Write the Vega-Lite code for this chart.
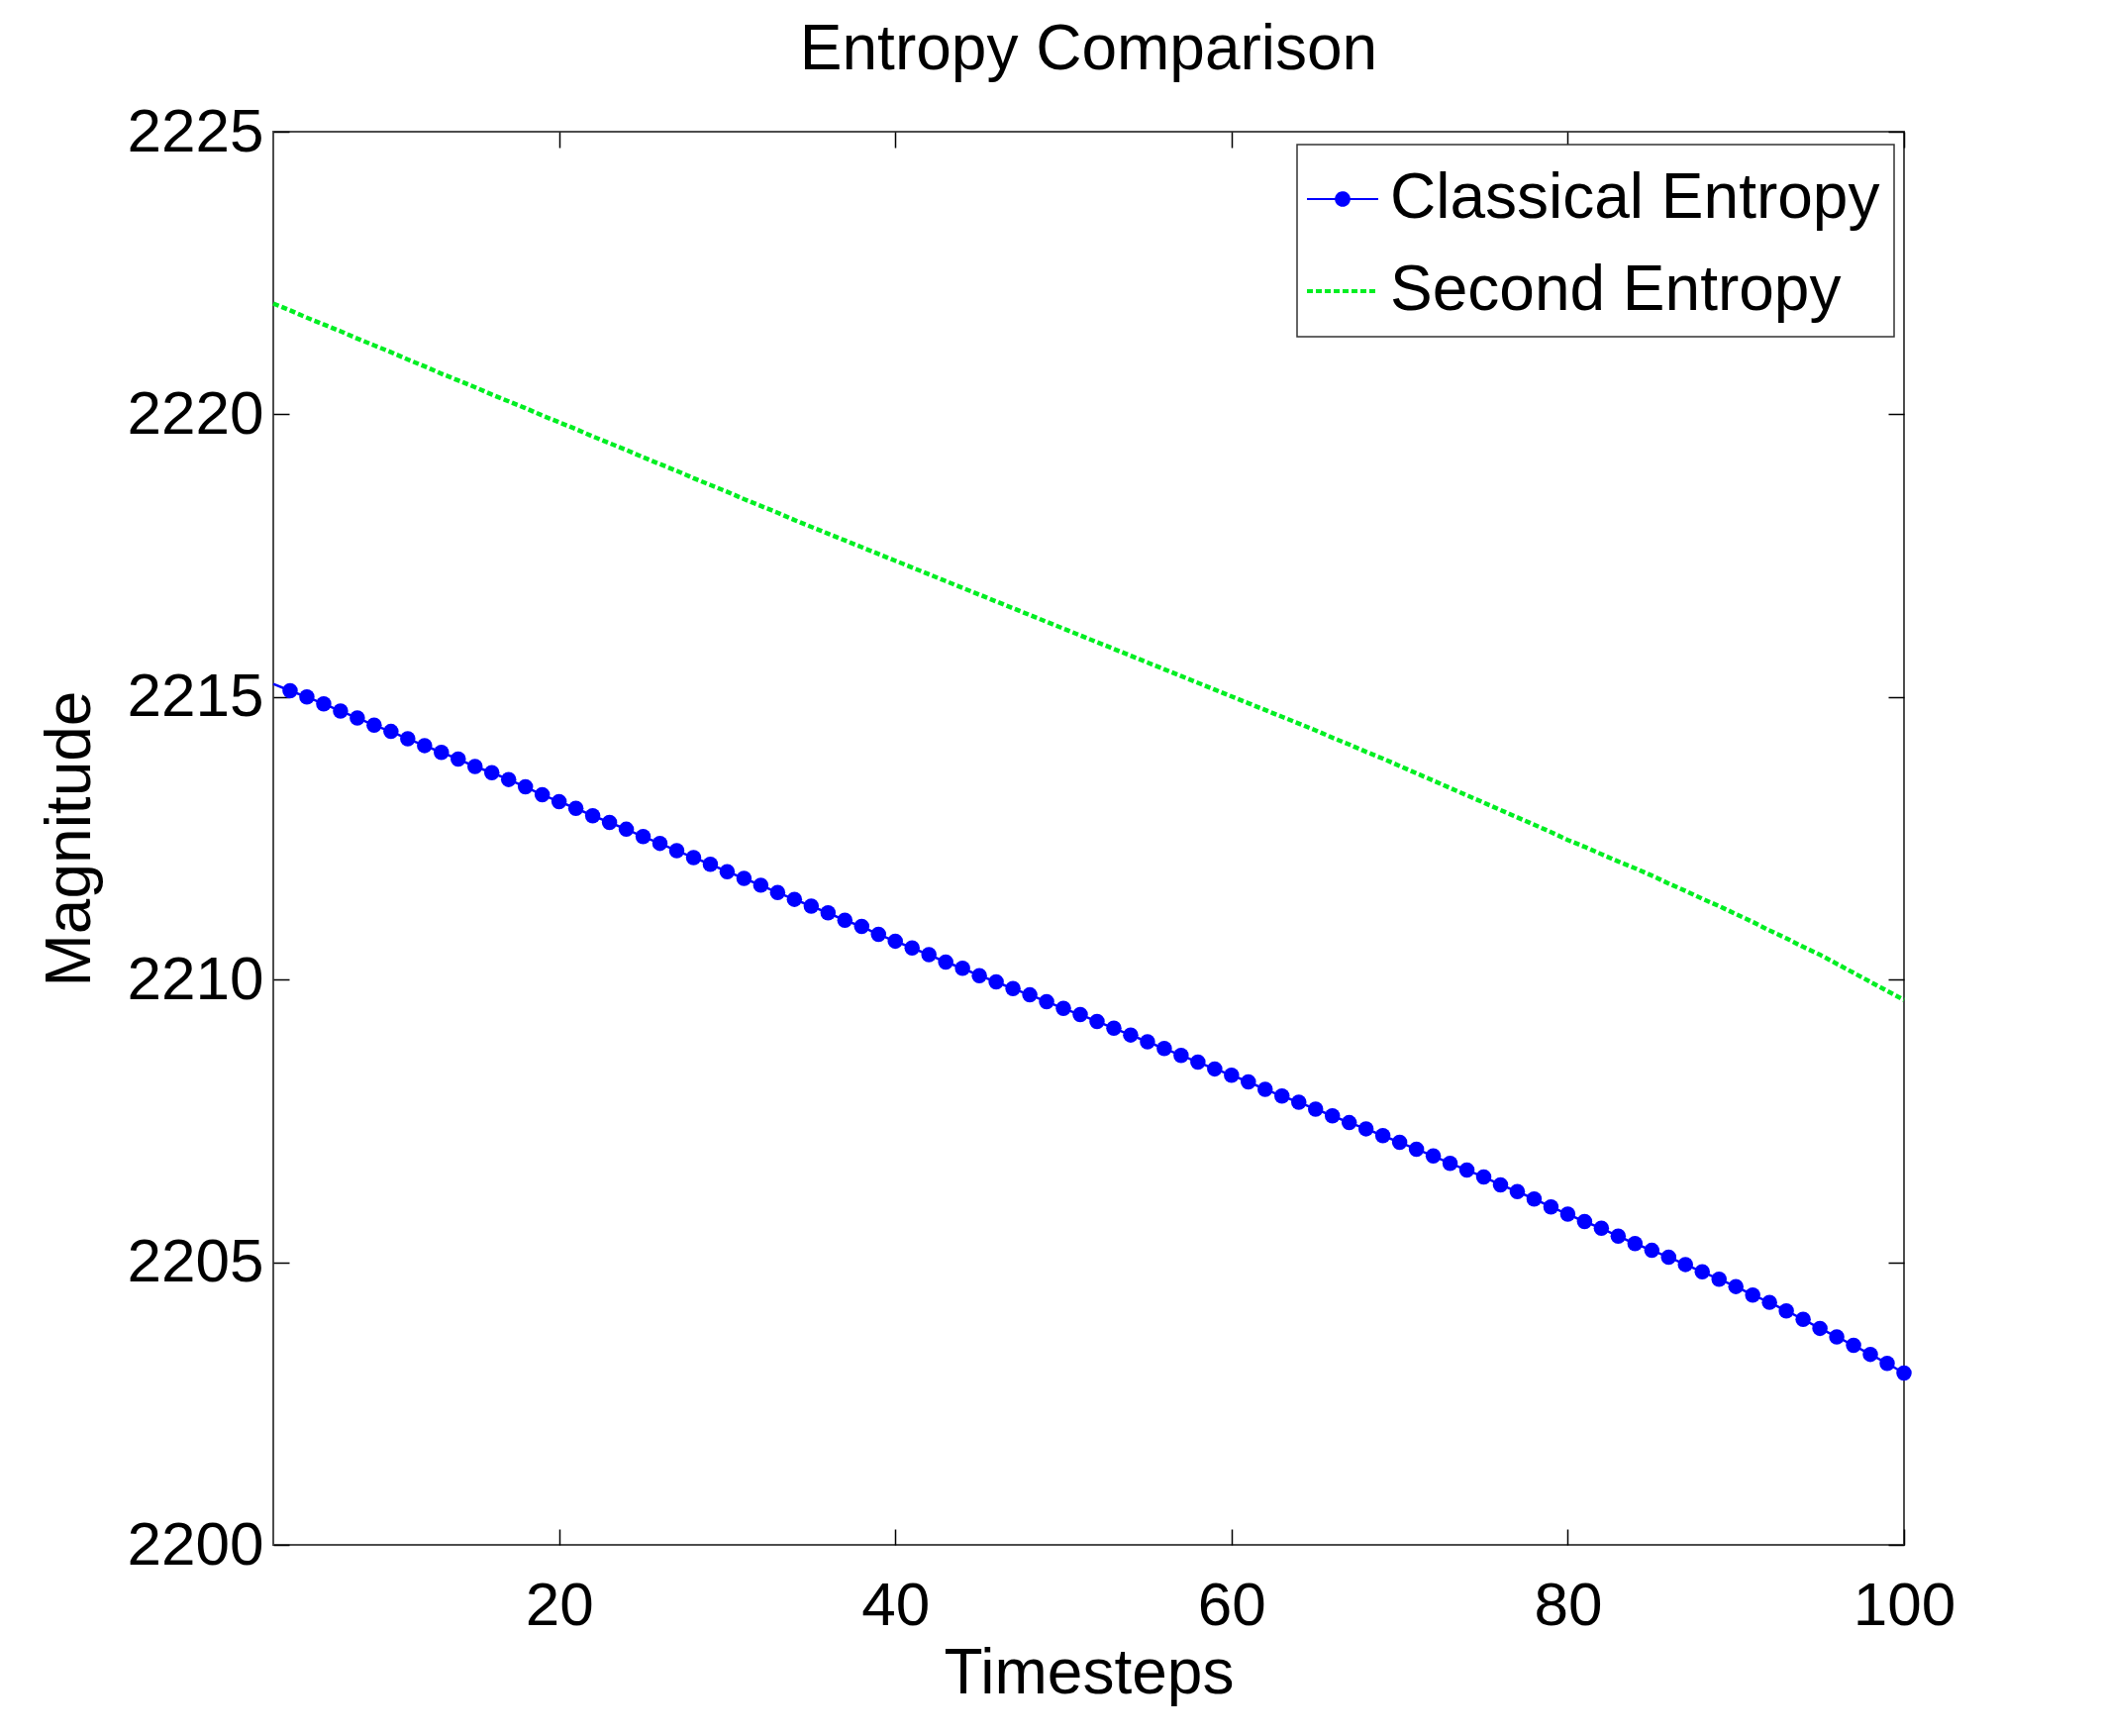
{
  "$schema": "https://vega.github.io/schema/vega-lite/v6.json",
  "width": 1647,
  "height": 1427,
  "autosize": {"type": "none"},
  "padding": {"left": 276, "top": 133, "right": 202, "bottom": 193},
  "background": "white",
  "config": {
    "font": "Liberation Sans",
    "view": {"stroke": "#4d4d4d", "strokeWidth": 2},
    "axis": {
      "labelFont": "Liberation Sans",
      "titleFont": "Liberation Sans",
      "labelFontSize": 62,
      "titleFontSize": 64,
      "labelColor": "black",
      "titleColor": "black",
      "titleFontWeight": "normal",
      "tickColor": "black",
      "tickWidth": 1.5,
      "tickSize": -16,
      "domain": false,
      "grid": false,
      "labelFlush": false
    }
  },
  "title": {
    "text": "Entropy Comparison",
    "font": "Liberation Sans",
    "fontSize": 64,
    "fontWeight": "normal",
    "color": "black",
    "anchor": "middle",
    "offset": 19
  },
  "data": {
    "values": [
      {"t": 3, "v": 2215.23, "series": "Classical Entropy"},
      {"t": 4, "v": 2215.11, "series": "Classical Entropy"},
      {"t": 5, "v": 2215.00, "series": "Classical Entropy"},
      {"t": 6, "v": 2214.88, "series": "Classical Entropy"},
      {"t": 7, "v": 2214.75, "series": "Classical Entropy"},
      {"t": 8, "v": 2214.63, "series": "Classical Entropy"},
      {"t": 9, "v": 2214.50, "series": "Classical Entropy"},
      {"t": 10, "v": 2214.39, "series": "Classical Entropy"},
      {"t": 11, "v": 2214.26, "series": "Classical Entropy"},
      {"t": 12, "v": 2214.14, "series": "Classical Entropy"},
      {"t": 13, "v": 2214.02, "series": "Classical Entropy"},
      {"t": 14, "v": 2213.90, "series": "Classical Entropy"},
      {"t": 15, "v": 2213.77, "series": "Classical Entropy"},
      {"t": 16, "v": 2213.66, "series": "Classical Entropy"},
      {"t": 17, "v": 2213.54, "series": "Classical Entropy"},
      {"t": 18, "v": 2213.41, "series": "Classical Entropy"},
      {"t": 19, "v": 2213.27, "series": "Classical Entropy"},
      {"t": 20, "v": 2213.15, "series": "Classical Entropy"},
      {"t": 21, "v": 2213.03, "series": "Classical Entropy"},
      {"t": 22, "v": 2212.90, "series": "Classical Entropy"},
      {"t": 23, "v": 2212.78, "series": "Classical Entropy"},
      {"t": 24, "v": 2212.66, "series": "Classical Entropy"},
      {"t": 25, "v": 2212.53, "series": "Classical Entropy"},
      {"t": 26, "v": 2212.41, "series": "Classical Entropy"},
      {"t": 27, "v": 2212.28, "series": "Classical Entropy"},
      {"t": 28, "v": 2212.16, "series": "Classical Entropy"},
      {"t": 29, "v": 2212.04, "series": "Classical Entropy"},
      {"t": 30, "v": 2211.91, "series": "Classical Entropy"},
      {"t": 31, "v": 2211.79, "series": "Classical Entropy"},
      {"t": 32, "v": 2211.67, "series": "Classical Entropy"},
      {"t": 33, "v": 2211.54, "series": "Classical Entropy"},
      {"t": 34, "v": 2211.42, "series": "Classical Entropy"},
      {"t": 35, "v": 2211.30, "series": "Classical Entropy"},
      {"t": 36, "v": 2211.18, "series": "Classical Entropy"},
      {"t": 37, "v": 2211.05, "series": "Classical Entropy"},
      {"t": 38, "v": 2210.94, "series": "Classical Entropy"},
      {"t": 39, "v": 2210.80, "series": "Classical Entropy"},
      {"t": 40, "v": 2210.68, "series": "Classical Entropy"},
      {"t": 41, "v": 2210.56, "series": "Classical Entropy"},
      {"t": 42, "v": 2210.44, "series": "Classical Entropy"},
      {"t": 43, "v": 2210.31, "series": "Classical Entropy"},
      {"t": 44, "v": 2210.20, "series": "Classical Entropy"},
      {"t": 45, "v": 2210.07, "series": "Classical Entropy"},
      {"t": 46, "v": 2209.96, "series": "Classical Entropy"},
      {"t": 47, "v": 2209.84, "series": "Classical Entropy"},
      {"t": 48, "v": 2209.73, "series": "Classical Entropy"},
      {"t": 49, "v": 2209.61, "series": "Classical Entropy"},
      {"t": 50, "v": 2209.49, "series": "Classical Entropy"},
      {"t": 51, "v": 2209.38, "series": "Classical Entropy"},
      {"t": 52, "v": 2209.26, "series": "Classical Entropy"},
      {"t": 53, "v": 2209.14, "series": "Classical Entropy"},
      {"t": 54, "v": 2209.02, "series": "Classical Entropy"},
      {"t": 55, "v": 2208.90, "series": "Classical Entropy"},
      {"t": 56, "v": 2208.78, "series": "Classical Entropy"},
      {"t": 57, "v": 2208.66, "series": "Classical Entropy"},
      {"t": 58, "v": 2208.54, "series": "Classical Entropy"},
      {"t": 59, "v": 2208.42, "series": "Classical Entropy"},
      {"t": 60, "v": 2208.31, "series": "Classical Entropy"},
      {"t": 61, "v": 2208.19, "series": "Classical Entropy"},
      {"t": 62, "v": 2208.06, "series": "Classical Entropy"},
      {"t": 63, "v": 2207.94, "series": "Classical Entropy"},
      {"t": 64, "v": 2207.83, "series": "Classical Entropy"},
      {"t": 65, "v": 2207.71, "series": "Classical Entropy"},
      {"t": 66, "v": 2207.59, "series": "Classical Entropy"},
      {"t": 67, "v": 2207.47, "series": "Classical Entropy"},
      {"t": 68, "v": 2207.36, "series": "Classical Entropy"},
      {"t": 69, "v": 2207.24, "series": "Classical Entropy"},
      {"t": 70, "v": 2207.12, "series": "Classical Entropy"},
      {"t": 71, "v": 2207.00, "series": "Classical Entropy"},
      {"t": 72, "v": 2206.88, "series": "Classical Entropy"},
      {"t": 73, "v": 2206.75, "series": "Classical Entropy"},
      {"t": 74, "v": 2206.63, "series": "Classical Entropy"},
      {"t": 75, "v": 2206.51, "series": "Classical Entropy"},
      {"t": 76, "v": 2206.37, "series": "Classical Entropy"},
      {"t": 77, "v": 2206.25, "series": "Classical Entropy"},
      {"t": 78, "v": 2206.12, "series": "Classical Entropy"},
      {"t": 79, "v": 2205.98, "series": "Classical Entropy"},
      {"t": 80, "v": 2205.85, "series": "Classical Entropy"},
      {"t": 81, "v": 2205.72, "series": "Classical Entropy"},
      {"t": 82, "v": 2205.60, "series": "Classical Entropy"},
      {"t": 83, "v": 2205.46, "series": "Classical Entropy"},
      {"t": 84, "v": 2205.33, "series": "Classical Entropy"},
      {"t": 85, "v": 2205.21, "series": "Classical Entropy"},
      {"t": 86, "v": 2205.09, "series": "Classical Entropy"},
      {"t": 87, "v": 2204.96, "series": "Classical Entropy"},
      {"t": 88, "v": 2204.83, "series": "Classical Entropy"},
      {"t": 89, "v": 2204.70, "series": "Classical Entropy"},
      {"t": 90, "v": 2204.57, "series": "Classical Entropy"},
      {"t": 91, "v": 2204.42, "series": "Classical Entropy"},
      {"t": 92, "v": 2204.29, "series": "Classical Entropy"},
      {"t": 93, "v": 2204.14, "series": "Classical Entropy"},
      {"t": 94, "v": 2203.99, "series": "Classical Entropy"},
      {"t": 95, "v": 2203.83, "series": "Classical Entropy"},
      {"t": 96, "v": 2203.68, "series": "Classical Entropy"},
      {"t": 97, "v": 2203.53, "series": "Classical Entropy"},
      {"t": 98, "v": 2203.37, "series": "Classical Entropy"},
      {"t": 99, "v": 2203.21, "series": "Classical Entropy"},
      {"t": 100, "v": 2203.04, "series": "Classical Entropy"},
      {"t": 3, "v": 2221.96, "series": "Second Entropy"},
      {"t": 4, "v": 2221.84, "series": "Second Entropy"},
      {"t": 5, "v": 2221.71, "series": "Second Entropy"},
      {"t": 6, "v": 2221.59, "series": "Second Entropy"},
      {"t": 7, "v": 2221.47, "series": "Second Entropy"},
      {"t": 8, "v": 2221.34, "series": "Second Entropy"},
      {"t": 9, "v": 2221.22, "series": "Second Entropy"},
      {"t": 10, "v": 2221.10, "series": "Second Entropy"},
      {"t": 11, "v": 2220.97, "series": "Second Entropy"},
      {"t": 12, "v": 2220.85, "series": "Second Entropy"},
      {"t": 13, "v": 2220.72, "series": "Second Entropy"},
      {"t": 14, "v": 2220.60, "series": "Second Entropy"},
      {"t": 15, "v": 2220.48, "series": "Second Entropy"},
      {"t": 16, "v": 2220.35, "series": "Second Entropy"},
      {"t": 17, "v": 2220.23, "series": "Second Entropy"},
      {"t": 18, "v": 2220.11, "series": "Second Entropy"},
      {"t": 19, "v": 2219.98, "series": "Second Entropy"},
      {"t": 20, "v": 2219.86, "series": "Second Entropy"},
      {"t": 21, "v": 2219.74, "series": "Second Entropy"},
      {"t": 22, "v": 2219.61, "series": "Second Entropy"},
      {"t": 23, "v": 2219.49, "series": "Second Entropy"},
      {"t": 24, "v": 2219.37, "series": "Second Entropy"},
      {"t": 25, "v": 2219.24, "series": "Second Entropy"},
      {"t": 26, "v": 2219.12, "series": "Second Entropy"},
      {"t": 27, "v": 2219.00, "series": "Second Entropy"},
      {"t": 28, "v": 2218.87, "series": "Second Entropy"},
      {"t": 29, "v": 2218.75, "series": "Second Entropy"},
      {"t": 30, "v": 2218.63, "series": "Second Entropy"},
      {"t": 31, "v": 2218.50, "series": "Second Entropy"},
      {"t": 32, "v": 2218.38, "series": "Second Entropy"},
      {"t": 33, "v": 2218.26, "series": "Second Entropy"},
      {"t": 34, "v": 2218.13, "series": "Second Entropy"},
      {"t": 35, "v": 2218.01, "series": "Second Entropy"},
      {"t": 36, "v": 2217.89, "series": "Second Entropy"},
      {"t": 37, "v": 2217.77, "series": "Second Entropy"},
      {"t": 38, "v": 2217.65, "series": "Second Entropy"},
      {"t": 39, "v": 2217.53, "series": "Second Entropy"},
      {"t": 40, "v": 2217.41, "series": "Second Entropy"},
      {"t": 41, "v": 2217.29, "series": "Second Entropy"},
      {"t": 42, "v": 2217.17, "series": "Second Entropy"},
      {"t": 43, "v": 2217.05, "series": "Second Entropy"},
      {"t": 44, "v": 2216.93, "series": "Second Entropy"},
      {"t": 45, "v": 2216.81, "series": "Second Entropy"},
      {"t": 46, "v": 2216.69, "series": "Second Entropy"},
      {"t": 47, "v": 2216.57, "series": "Second Entropy"},
      {"t": 48, "v": 2216.45, "series": "Second Entropy"},
      {"t": 49, "v": 2216.33, "series": "Second Entropy"},
      {"t": 50, "v": 2216.21, "series": "Second Entropy"},
      {"t": 51, "v": 2216.09, "series": "Second Entropy"},
      {"t": 52, "v": 2215.97, "series": "Second Entropy"},
      {"t": 53, "v": 2215.85, "series": "Second Entropy"},
      {"t": 54, "v": 2215.73, "series": "Second Entropy"},
      {"t": 55, "v": 2215.61, "series": "Second Entropy"},
      {"t": 56, "v": 2215.49, "series": "Second Entropy"},
      {"t": 57, "v": 2215.37, "series": "Second Entropy"},
      {"t": 58, "v": 2215.25, "series": "Second Entropy"},
      {"t": 59, "v": 2215.13, "series": "Second Entropy"},
      {"t": 60, "v": 2215.01, "series": "Second Entropy"},
      {"t": 61, "v": 2214.89, "series": "Second Entropy"},
      {"t": 62, "v": 2214.77, "series": "Second Entropy"},
      {"t": 63, "v": 2214.65, "series": "Second Entropy"},
      {"t": 64, "v": 2214.53, "series": "Second Entropy"},
      {"t": 65, "v": 2214.41, "series": "Second Entropy"},
      {"t": 66, "v": 2214.28, "series": "Second Entropy"},
      {"t": 67, "v": 2214.16, "series": "Second Entropy"},
      {"t": 68, "v": 2214.03, "series": "Second Entropy"},
      {"t": 69, "v": 2213.91, "series": "Second Entropy"},
      {"t": 70, "v": 2213.78, "series": "Second Entropy"},
      {"t": 71, "v": 2213.65, "series": "Second Entropy"},
      {"t": 72, "v": 2213.52, "series": "Second Entropy"},
      {"t": 73, "v": 2213.39, "series": "Second Entropy"},
      {"t": 74, "v": 2213.26, "series": "Second Entropy"},
      {"t": 75, "v": 2213.13, "series": "Second Entropy"},
      {"t": 76, "v": 2213.00, "series": "Second Entropy"},
      {"t": 77, "v": 2212.87, "series": "Second Entropy"},
      {"t": 78, "v": 2212.74, "series": "Second Entropy"},
      {"t": 79, "v": 2212.61, "series": "Second Entropy"},
      {"t": 80, "v": 2212.47, "series": "Second Entropy"},
      {"t": 81, "v": 2212.35, "series": "Second Entropy"},
      {"t": 82, "v": 2212.22, "series": "Second Entropy"},
      {"t": 83, "v": 2212.09, "series": "Second Entropy"},
      {"t": 84, "v": 2211.97, "series": "Second Entropy"},
      {"t": 85, "v": 2211.84, "series": "Second Entropy"},
      {"t": 86, "v": 2211.70, "series": "Second Entropy"},
      {"t": 87, "v": 2211.57, "series": "Second Entropy"},
      {"t": 88, "v": 2211.43, "series": "Second Entropy"},
      {"t": 89, "v": 2211.30, "series": "Second Entropy"},
      {"t": 90, "v": 2211.16, "series": "Second Entropy"},
      {"t": 91, "v": 2211.02, "series": "Second Entropy"},
      {"t": 92, "v": 2210.87, "series": "Second Entropy"},
      {"t": 93, "v": 2210.73, "series": "Second Entropy"},
      {"t": 94, "v": 2210.58, "series": "Second Entropy"},
      {"t": 95, "v": 2210.44, "series": "Second Entropy"},
      {"t": 96, "v": 2210.28, "series": "Second Entropy"},
      {"t": 97, "v": 2210.12, "series": "Second Entropy"},
      {"t": 98, "v": 2209.96, "series": "Second Entropy"},
      {"t": 99, "v": 2209.80, "series": "Second Entropy"},
      {"t": 100, "v": 2209.64, "series": "Second Entropy"}
    ]
  },
  "encoding": {
    "color": {
      "field": "series",
      "type": "nominal",
      "scale": {
        "domain": ["Classical Entropy", "Second Entropy"],
        "range": ["#0000ff", "#00ee22"]
      },
      "legend": {
        "title": " ",
        "titleFontSize": 4,
        "titlePadding": 5,
        "orient": "none",
        "legendX": 1034,
        "legendY": 13,
        "padding": 14,
        "strokeColor": "#333333",
        "fillColor": "white",
        "labelFont": "Liberation Sans",
        "labelFontSize": 64,
        "labelColor": "black",
        "labelLimit": 1000,
        "labelOffset": 16,
        "rowPadding": 29,
        "symbolType": "stroke",
        "symbolSize": 5184,
        "encode": {
          "legend": {"update": {"strokeWidth": {"value": 1.5}}},
          "symbols": {
            "update": {
              "shape": {"signal": "datum.value === 'Classical Entropy' ? 'M-1,0H1M-0.19,0A0.19,0.19,0,1,1,0.19,0A0.19,0.19,0,1,1,-0.19,0Z' : 'M-1,0H1'"},
              "fill": {"signal": "datum.value === 'Classical Entropy' ? '#0000ff' : 'transparent'"},
              "fillOpacity": {"value": 1},
              "stroke": {"signal": "datum.value === 'Classical Entropy' ? '#0000ff' : '#00ee22'"},
              "strokeOpacity": {"value": 1},
              "strokeDash": {"signal": "datum.value === 'Classical Entropy' ? [1, 0] : [6, 3]"},
              "strokeWidth": {"signal": "datum.value === 'Classical Entropy' ? 2 : 4"},
              "size": {"value": 5184}
            }
          }
        }
      }
    }
  },
  "layer": [
    {
      "transform": [{"filter": "datum.series === 'Classical Entropy'"}],
      "mark": {"type": "line", "strokeWidth": 2.5},
      "encoding": {
        "x": {
          "field": "t",
          "type": "quantitative",
          "scale": {"domain": [3, 100], "nice": false, "zero": false},
          "axis": {
            "orient": "bottom",
            "values": [20, 40, 60, 80, 100],
            "title": "Timesteps",
            "labelPadding": 47,
            "titlePadding": 6
          }
        },
        "y": {
          "field": "v",
          "type": "quantitative",
          "scale": {"domain": [2200, 2225], "nice": false, "zero": false},
          "axis": {
            "orient": "left",
            "values": [2200, 2205, 2210, 2215, 2220, 2225],
            "format": "d",
            "title": "Magnitude",
            "labelPadding": 26,
            "titlePadding": 25
          }
        }
      }
    },
    {
      "transform": [{"filter": "datum.series === 'Classical Entropy' && datum.t >= 4"}],
      "mark": {"type": "point", "filled": true, "size": 240, "opacity": 1},
      "encoding": {
        "x": {
          "field": "t",
          "type": "quantitative",
          "axis": {"orient": "top", "values": [20, 40, 60, 80, 100], "labels": false, "title": null}
        },
        "y": {
          "field": "v",
          "type": "quantitative",
          "axis": {"orient": "right", "values": [2200, 2205, 2210, 2215, 2220, 2225], "labels": false, "title": null}
        }
      }
    },
    {
      "transform": [{"filter": "datum.series === 'Second Entropy'"}],
      "mark": {"type": "line", "strokeWidth": 4.5, "strokeDash": [6, 3]},
      "encoding": {
        "x": {"field": "t", "type": "quantitative", "axis": null},
        "y": {"field": "v", "type": "quantitative", "axis": null}
      }
    }
  ]
}
